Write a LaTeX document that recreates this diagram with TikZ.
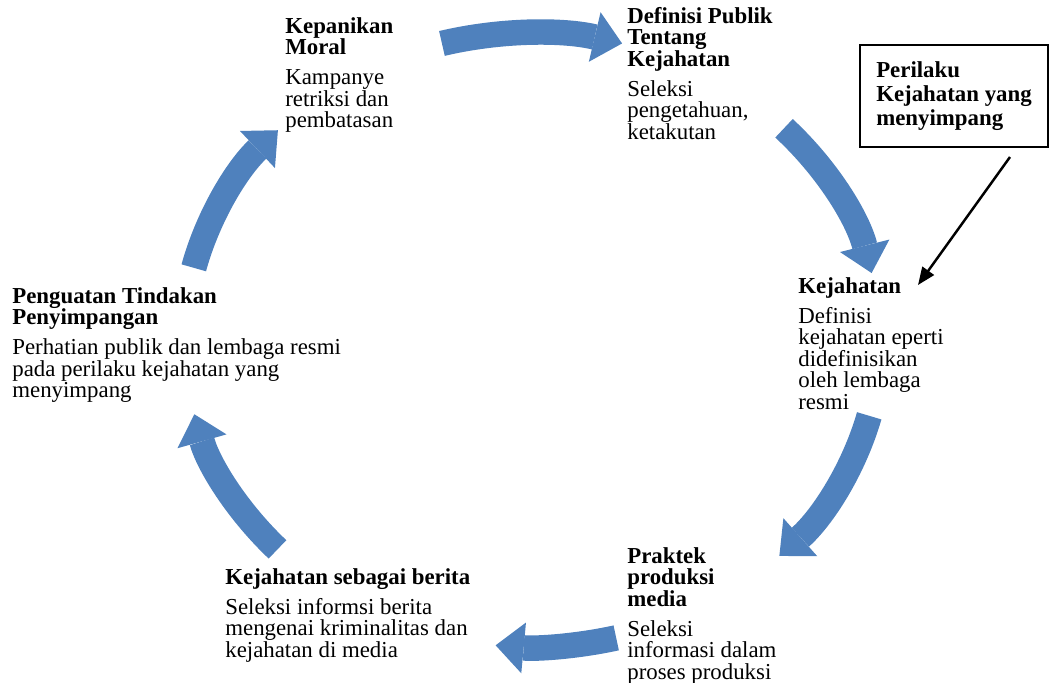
\documentclass[tikz,border=0pt]{standalone}
\usepackage{fontspec}
\setmainfont{Liberation Serif}
\usepackage{tikz}
\usetikzlibrary{arrows.meta, positioning, calc}
\definecolor{cycblue}{RGB}{79,129,189}
\definecolor{mydark}{RGB}{0,0,0}
\tikzset{
  stage/.style={anchor=north west, align=left, inner sep=0pt, font=\fontsize{13}{12.2}\selectfont},
  notebox/.style={rectangle, draw=mydark, line width=1pt, minimum width=3.76cm, minimum height=2.04cm,
    align=left, font=\fontsize{13}{13.5}\selectfont\bfseries},
  cycarrow/.style={line width=14.5pt, color=cycblue, -{Triangle[width=29pt, length=16pt, line width=0pt]}},
  arrow/.style={-{Triangle[width=8pt, length=10pt]}, line width=1.4pt, color=mydark}
}

\begin{document}
\begin{tikzpicture}[x=0.02cm, y=0.02cm]
  \useasboundingbox (0,0) rectangle (1050,682);
  \coordinate (ctr) at (532,342);
  % the six stages
  \node[stage] (moral) at (285,665) {\textbf{Kepanikan}\\\textbf{Moral}\\[5pt]Kampanye\\retriksi dan\\pembatasan};
  \node[stage] (publik) at (627,675) {\textbf{Definisi Publik}\\\textbf{Tentang}\\\textbf{Kejahatan}\\[5pt]Seleksi\\pengetahuan,\\ketakutan};
  \node[stage] (jahat) at (798,405) {\textbf{Kejahatan}\\[5pt]Definisi\\kejahatan eperti\\didefinisikan\\oleh lembaga\\resmi};
  \node[stage] (media) at (627,135) {\textbf{Praktek}\\\textbf{produksi}\\\textbf{media}\\[5pt]Seleksi\\informasi dalam\\proses produksi};
  \node[stage] (berita) at (225,114) {\textbf{Kejahatan sebagai berita}\\[5pt]Seleksi informsi berita\\mengenai kriminalitas dan\\kejahatan di media};
  \node[stage] (kuat) at (12,395) {\textbf{Penguatan Tindakan}\\\textbf{Penyimpangan}\\[5pt]Perhatian publik dan lembaga resmi\\pada perilaku kejahatan yang\\menyimpang};
  % cycle arrows
  \draw[cycarrow] ($(ctr)+(105:348 and 307)$) arc[start angle=105, end angle=75, x radius=348, y radius=307];
  \draw[cycarrow] ($(ctr)+(43.6:348 and 307)$) arc[start angle=43.6, end angle=12.6, x radius=348, y radius=307];
  \draw[cycarrow] ($(ctr)+(-14.3:348 and 307)$) arc[start angle=-14.3, end angle=-44.7, x radius=348, y radius=307];
  \draw[cycarrow] ($(ctr)+(-76:348 and 307)$) arc[start angle=-76, end angle=-96, x radius=348, y radius=307];
  \draw[cycarrow] ($(ctr)+(-137:348 and 307)$) arc[start angle=-137, end angle=-166, x radius=348, y radius=307];
  \draw[cycarrow] ($(ctr)+(166.4:348 and 307)$) arc[start angle=166.4, end angle=136.9, x radius=348, y radius=307];
  % outside note
  \node[notebox] (note) at (954,586) {Perilaku\\Kejahatan yang\\menyimpang};
  \coordinate (src) at (1010,525);
  \coordinate (dst) at (918,397);
  \draw[arrow] (src) -- (dst);
\end{tikzpicture}
\end{document}
